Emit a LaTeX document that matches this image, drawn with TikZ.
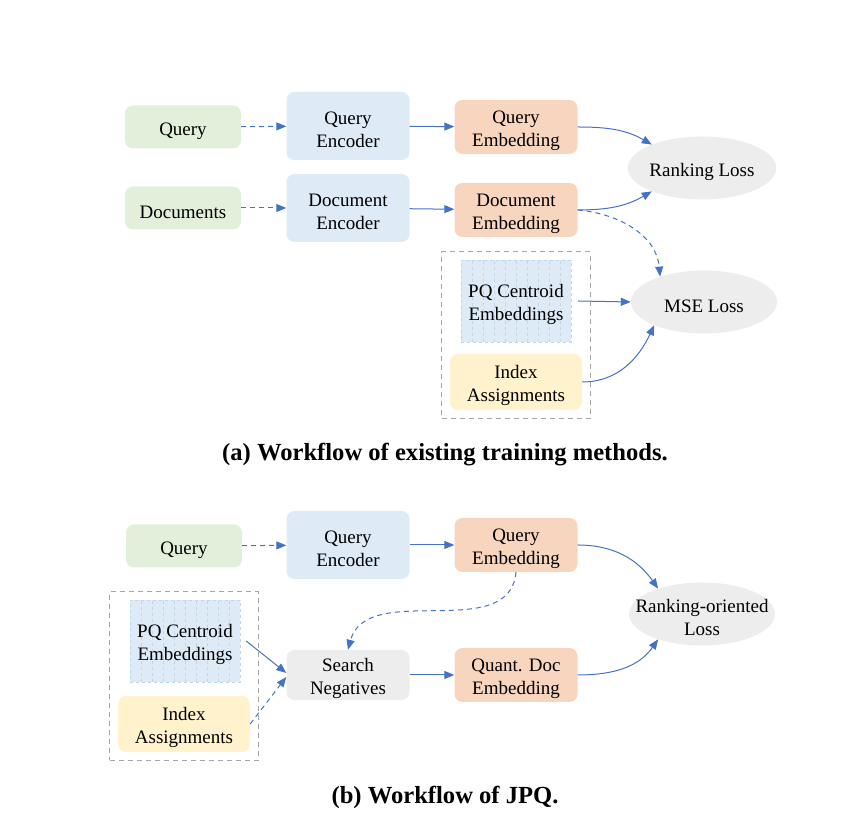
\documentclass[tikz,border=0pt]{standalone}
\usepackage{fontspec}
\setmainfont{Liberation Serif}
\usetikzlibrary{shapes.geometric,arrows.meta,fit}

\definecolor{inputgreen}{HTML}{E2EFDA}
\definecolor{encblue}{HTML}{DEEAF6}
\definecolor{embedorange}{HTML}{F8D5BE}
\definecolor{lossgray}{HTML}{EDEDED}
\definecolor{idxyellow}{HTML}{FFF2CC}
\definecolor{pqline}{HTML}{BDD7EE}
\definecolor{flowblue}{HTML}{4472C4}
\definecolor{framegray}{HTML}{A6A6A6}

\begin{document}
\begin{tikzpicture}[
  x=1pt, y=1pt,
  every node/.style={align=center, inner sep=0pt, font=\fontsize{19}{23}\selectfont},
  oneline/.style={execute at begin node={\rule{0pt}{22pt}}},
  twoline/.style={execute at begin node={\rule{0pt}{43pt}}},
  box/.style={rounded corners=8pt, minimum width=123pt, minimum height=54pt},
  input/.style={box, oneline, fill=inputgreen, minimum width=116pt, minimum height=43pt},
  encoder/.style={box, twoline, fill=encblue, minimum height=68pt},
  embed/.style={box, twoline, fill=embedorange},
  search/.style={box, twoline, fill=lossgray, minimum height=50pt},
  index/.style={box, twoline, fill=idxyellow, minimum width=132pt, minimum height=56pt},
  pq/.style={twoline, fill=encblue, draw=pqline, dashed, minimum width=110pt, minimum height=82pt,
    path picture={
      \foreach \i in {1,...,9}
        \draw[pqline, dashed] ([xshift=\i*11pt]path picture bounding box.south west)
          -- ([xshift=\i*11pt]path picture bounding box.north west);
    }},
  loss/.style={oneline, ellipse, fill=lossgray, minimum width=146pt, minimum height=63pt},
  frame/.style={draw=framegray, line width=1pt, inner sep=8pt, dash pattern=on 5pt off 4pt},
  flow/.style={flowblue, line width=1pt, -{Triangle[length=10pt,width=8pt]}},
  dashflow/.style={flow, dash pattern=on 5pt off 4pt},
  caption/.style={font=\fontsize{24.6}{28}\selectfont\bfseries}
]
\useasboundingbox (0,0) rectangle (863,829);

% (a) existing training methods
\node[input] (qry) at (183,702) {Query};
\node[input] (docs) at (183,621) {Documents};
\node[encoder] (qenc) at (348,703) {Query\\Encoder};
\node[encoder] (denc) at (348,621) {Document\\Encoder};
\node[embed] (qemb) at (516,702) {Query\\Embedding};
\node[embed] (demb) at (516,619) {Document\\Embedding};
\node[loss] (rank) at (702,661) {Ranking Loss};
\node[loss] (mse) at (704,527) {MSE Loss};
\node[pq] (pq) at (516,528) {PQ Centroid\\Embeddings};
\node[index] (idx) at (516,447) {Index\\Assignments};
\node[frame, fit=(pq)(idx)] (grp) {};

\draw[dashflow] (qry) -- (qenc);
\draw[dashflow] (docs) -- (denc);
\draw[flow] (qenc) -- (qemb);
\draw[flow] (denc) -- (demb);
\draw[flow] (qemb.east) to[out=0, in=150] (rank.155);
\draw[flow] (demb.east) to[out=0, in=210] (rank.205);
\draw[dashflow] (demb.east) to[out=-5, in=95] (mse.150);
\draw[flow] ([xshift=7pt]pq.east) -- (mse.west);
\draw[flow] (idx.east) to[out=0, in=-115] (mse.205);

\node[caption] (capa) at (445,374) {(a) Workflow of existing training methods.};

% (b) JPQ
\node[input] (qry2) at (184,283) {Query};
\node[encoder] (qenc2) at (348,284) {Query\\Encoder};
\node[embed] (qemb2) at (516,284) {Query\\Embedding};
\node[loss, twoline, inner xsep=-18pt, inner ysep=-8pt] (rank2) at (702,215) {Ranking-oriented\\Loss};
\node[pq] (pq2) at (185,188) {PQ Centroid\\Embeddings};
\node[index] (idx2) at (184,105) {Index\\Assignments};
\node[frame, fit=(pq2)(idx2)] (grp2) {};
\node[search] (srch) at (348,154) {Search\\Negatives};
\node[embed] (quant) at (516,154) {Quant. Doc\\Embedding};

\draw[dashflow] (qry2) -- (qenc2);
\draw[flow] (qenc2) -- (qemb2);
\draw[flow] (qemb2.east) to[out=0, in=125] (rank2.150);
\draw[dashflow] (qemb2.south) to[out=-95, in=75] (srch.north);
\draw[flow] ([xshift=6pt]pq2.east) -- ([yshift=2pt]srch.west);
\draw[dashflow] (idx2.east) -- ([yshift=-2pt]srch.west);
\draw[flow] (srch) -- (quant);
\draw[flow] (quant.east) to[out=0, in=-125] (rank2.210);

\node[caption] (capb) at (445,32) {(b) Workflow of JPQ.};
\end{tikzpicture}
\end{document}
